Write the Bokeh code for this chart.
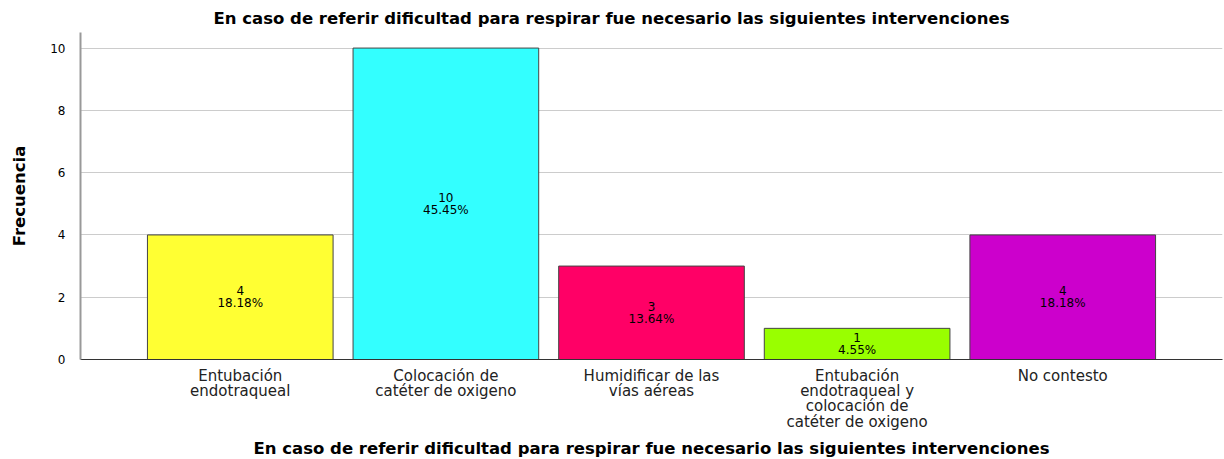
from bokeh.plotting import figure
from bokeh.models import FactorRange, ColumnDataSource, Title
from bokeh.core.properties import value
from bokeh.embed import file_html
from bokeh.resources import INLINE

categories = [
    "Entubación\nendotraqueal",
    "Colocación de\ncatéter de oxigeno",
    "Humidificar de las\nvías aéreas",
    "Entubación\nendotraqueal y\ncolocación de\ncatéter de oxigeno",
    "No contesto",
]
counts = [4, 10, 3, 1, 4]
percents = ["18.18%", "45.45%", "13.64%", "4.55%", "18.18%"]
colors = ["#FFFF33", "#33FFFF", "#FF0066", "#99FF00", "#CC00CC"]
y_ticks = [0, 2, 4, 6, 8, 10]

title_text = "En caso de referir dificultad para respirar fue necesario las siguientes intervenciones"

FONT = "DejaVu Sans"

src = ColumnDataSource(dict(
    cat=categories,
    count=counts,
    mid=[c / 2 for c in counts],
    label=[f"{c}\n{p}" for c, p in zip(counts, percents)],
    color=colors,
))

p = figure(
    frame_width=1142, frame_height=327,
    x_range=FactorRange(factors=categories, range_padding=0.277, range_padding_units="absolute"),
    y_range=(0, 10.5),
    output_backend="svg", toolbar_location=None,
    min_border_left=80, min_border_right=2, min_border_top=32, min_border_bottom=100,
)
p.title = None
p.add_layout(Title(text=title_text, align="left", offset=133,
                   text_font=FONT, text_font_size="16.5px",
                   text_font_style="bold", text_color="#000000",
                   standoff=9), "above")

p.vbar(x="cat", top="count", width=186/206, source=src, fill_color="color",
       line_color="#444444", line_width=1)

p.text(x="cat", y="mid", text="label", source=src, text_align="center",
       text_baseline="middle", text_font=value(FONT),
       text_font_size="12px", text_color="#000000", text_line_height=0.84)

p.outline_line_color = None
p.background_fill_color = "white"
p.border_fill_color = "white"

p.xgrid.grid_line_color = None
p.ygrid.grid_line_color = "#cccccc"
p.ygrid.ticker = y_ticks
p.yaxis.ticker = y_ticks

p.yaxis.axis_label = "Frecuencia"
p.yaxis.axis_label_text_font = FONT
p.yaxis.axis_label_text_font_style = "bold"
p.yaxis.axis_label_text_font_size = "16.5px"
p.yaxis.axis_label_text_color = "#000000"
p.yaxis.axis_label_standoff = 18
p.yaxis.major_label_text_font = FONT
p.yaxis.major_label_text_font_size = "12px"
p.yaxis.major_label_text_color = "#000000"
p.yaxis.major_tick_line_color = None
p.yaxis.minor_tick_line_color = None
p.yaxis.axis_line_color = "#999999"
p.yaxis.axis_line_width = 2
p.yaxis.major_label_standoff = 9

p.xaxis.axis_label = title_text
p.xaxis.axis_label_text_font = FONT
p.xaxis.axis_label_text_font_style = "bold"
p.xaxis.axis_label_text_font_size = "16.5px"
p.xaxis.axis_label_text_color = "#000000"
p.xaxis.axis_label_standoff = 5
p.xaxis.major_label_text_font = FONT
p.xaxis.major_label_text_font_size = "15px"
p.xaxis.major_label_text_color = "#222222"
p.xaxis.major_label_text_line_height = 0.86
p.xaxis.major_tick_line_color = None
p.xaxis.axis_line_color = "#333333"
p.xaxis.axis_line_width = 1
p.xaxis.major_label_standoff = 1

open("out.html", "w").write(file_html(p, INLINE))
